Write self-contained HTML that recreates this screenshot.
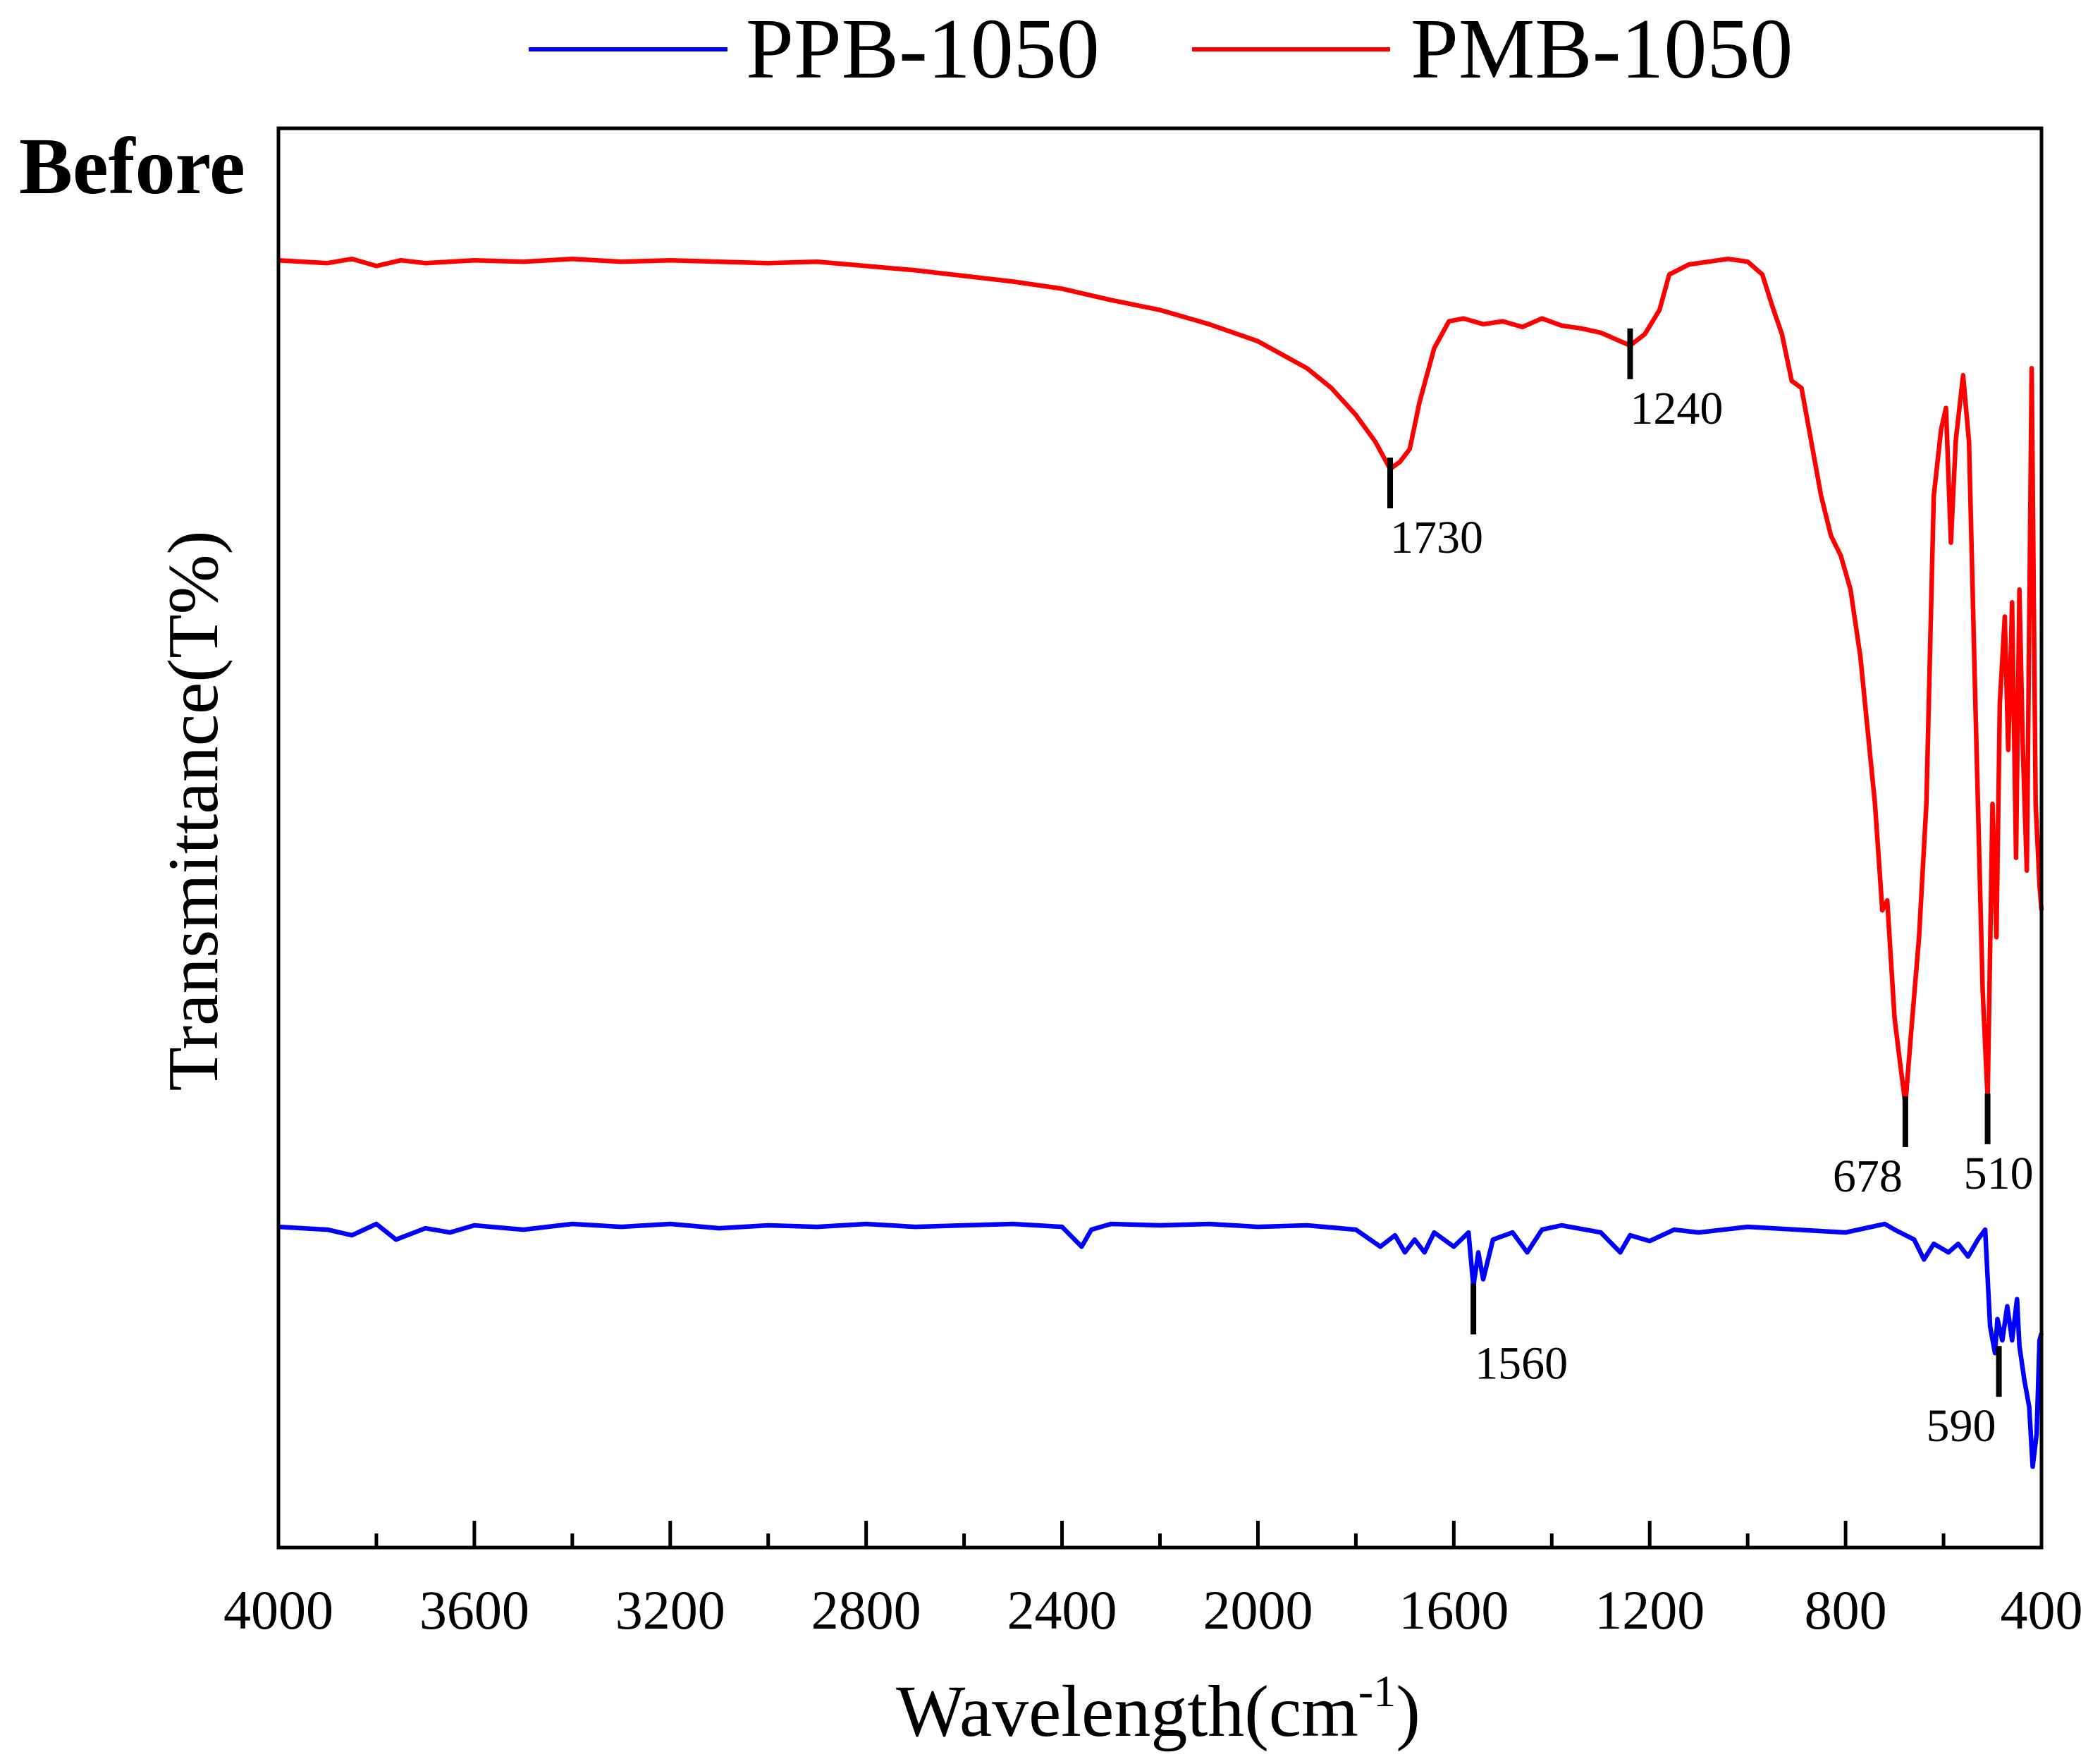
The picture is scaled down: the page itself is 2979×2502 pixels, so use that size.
<!DOCTYPE html>
<html><head><meta charset="utf-8"><style>
body{margin:0;background:#fff}
svg{display:block;font-family:"Liberation Serif",serif}
</style></head><body>
<svg id="chart" width="2979" height="2502" viewBox="0 0 2979 2502" xmlns="http://www.w3.org/2000/svg">
<g>
<line x1="750" y1="70" x2="1032" y2="70" stroke="#0000ff" stroke-width="6"/>
<text x="1058" y="110" font-size="122">PPB-1050</text>
<line x1="1691" y1="70" x2="1972" y2="70" stroke="#ff0000" stroke-width="6"/>
<text x="2001" y="110" font-size="122">PMB-1050</text>
</g>
<text x="27" y="274" font-size="114" font-weight="bold">Before</text>
<g id="plot"></g>
<rect x="395" y="182" width="2501" height="2013" fill="none" stroke="#000" stroke-width="5"/>
<g id="axes"></g>
<text x="1643" y="2462" font-size="104" text-anchor="middle">Wavelength(cm<tspan font-size="64" dy="-42">-1</tspan><tspan dy="42">)</tspan></text>
<text transform="translate(308,1150) rotate(-90)" font-size="102" text-anchor="middle">Transmittance(T%)</text>
<g id="ann"></g>
</svg>
<script>
const redWn=[4000,3900,3850,3800,3750,3700,3600,3500,3400,3300,3200,3100,3000,2900,2800,2700,2600,2500,2400,2300,2200,2100,2000,1900,1850,1800,1760,1730,1710,1690,1670,1640,1610,1580,1540,1500,1460,1420,1380,1340,1300,1260,1240,1210,1180,1160,1120,1080,1040,1000,970,950,930,910,890,870,850,830,810,790,770,755,740,725,715,700,690,678,665,650,635,620,605,595,585,575,560,548,535,520,510,500,492,485,475,468,460,452,445,438,430,420,412,404,400];
const redT=[90.7,90.5,90.8,90.3,90.7,90.5,90.7,90.6,90.8,90.6,90.7,90.6,90.5,90.6,90.3,90.0,89.6,89.2,88.7,87.9,87.2,86.2,85.0,83.1,81.7,79.8,77.9,76.0,76.5,77.4,80.7,84.5,86.4,86.6,86.2,86.4,86.0,86.6,86.1,85.9,85.6,85.0,84.7,85.5,87.2,89.7,90.4,90.6,90.8,90.6,89.7,87.5,85.5,82.2,81.7,77.9,74.1,71.3,69.9,67.5,62.8,57.6,52.4,44.9,45.6,37.3,34.5,31.2,36.8,43.0,52.4,74.1,78.8,80.3,70.8,78.0,82.6,77.9,59.5,39.2,31.6,52.4,43.0,59.5,65.6,56.2,66.6,48.6,67.5,56.2,47.7,83.1,52.4,46.7,44.9];
const blueWn=[4000,3900,3850,3800,3760,3700,3650,3600,3500,3400,3300,3200,3100,3000,2900,2800,2700,2600,2500,2400,2360,2340,2300,2200,2100,2000,1900,1800,1750,1720,1700,1680,1660,1640,1600,1570,1560,1550,1540,1520,1480,1450,1420,1380,1300,1260,1240,1200,1150,1100,1000,900,800,720,700,660,640,620,590,570,550,530,515,505,495,490,480,470,460,450,445,435,425,418,410,404,400];
const blueT=[22.6,22.4,22.0,22.8,21.7,22.5,22.2,22.7,22.4,22.8,22.6,22.8,22.5,22.7,22.6,22.8,22.6,22.7,22.8,22.6,21.2,22.4,22.8,22.7,22.8,22.6,22.7,22.4,21.2,22.0,20.8,21.7,20.8,22.2,21.2,22.2,18.4,20.8,18.9,21.7,22.2,20.8,22.4,22.7,22.2,20.8,22.0,21.6,22.4,22.2,22.6,22.4,22.2,22.8,22.4,21.7,20.3,21.4,20.8,21.4,20.5,21.7,22.4,15.6,13.7,16.1,14.6,17.0,14.6,17.5,14.2,11.8,9.9,5.7,8.0,14.6,15.1];
const xTicks=[4000,3600,3200,2800,2400,2000,1600,1200,800,400];
const xTickLabels=["4000","3600","3200","2800","2400","2000","1600","1200","800","400"];
const peakWn=[1730,1240,678,510,1560,487];
const peakTop=[76.8,85.9,31.8,32.0,18.6,14.2];
const peakLabels=["1730","1240","678","510","1560","590"];
const NS="http://www.w3.org/2000/svg";
const X=w=>395+(4000-w)*2501/3600;
const Y=v=>2195-v*20.13;
function mk(t,a,p){const e=document.createElementNS(NS,t);for(const k in a)e.setAttribute(k,a[k]);p.appendChild(e);return e;}
const plot=document.getElementById('plot');
function series(wn,t,col,name){
 let d=wn.map((w,i)=>(i?'L':'M')+X(w).toFixed(1)+' '+Y(t[i]).toFixed(1)).join(' ');
 const p=mk('path',{d:d,fill:'none',stroke:col,'stroke-width':6.5,'stroke-linejoin':'round'},plot);
 
 
}
series(redWn,redT,'#ff0000','pmb-1050-line');
series(blueWn,blueT,'#0000ff','ppb-1050-line');
const axes=document.getElementById('axes');
for(let w=4000;w>=400;w-=200){
 const major=(w%400===0);
 const l=mk('line',{x1:X(w),x2:X(w),y1:2195,y2:2195-(major?38:20),stroke:'#000','stroke-width':5},axes);
 
 
}
xTicks.forEach((w,i)=>{
 const t=mk('text',{x:X(w),y:2310,'font-size':78,'text-anchor':'middle'},axes);
 t.textContent=xTickLabels[i];
 
 
});
const ann=document.getElementById('ann');
const labPos=[[0,'start'],[0,'start'],[-4,'end'],[-34,'start'],[2,'start'],[-4,'end']];
peakWn.forEach((w,i)=>{
 const y0=Y(peakTop[i]);
 const l=mk('line',{x1:X(w),x2:X(w),y1:y0,y2:y0+72,stroke:'#000','stroke-width':8},ann);
 
 
 const t=mk('text',{x:X(w)+labPos[i][0],y:y0+135,'font-size':66,'text-anchor':labPos[i][1]},ann);
 t.textContent=peakLabels[i];
 
 
});
</script>
</body></html>
